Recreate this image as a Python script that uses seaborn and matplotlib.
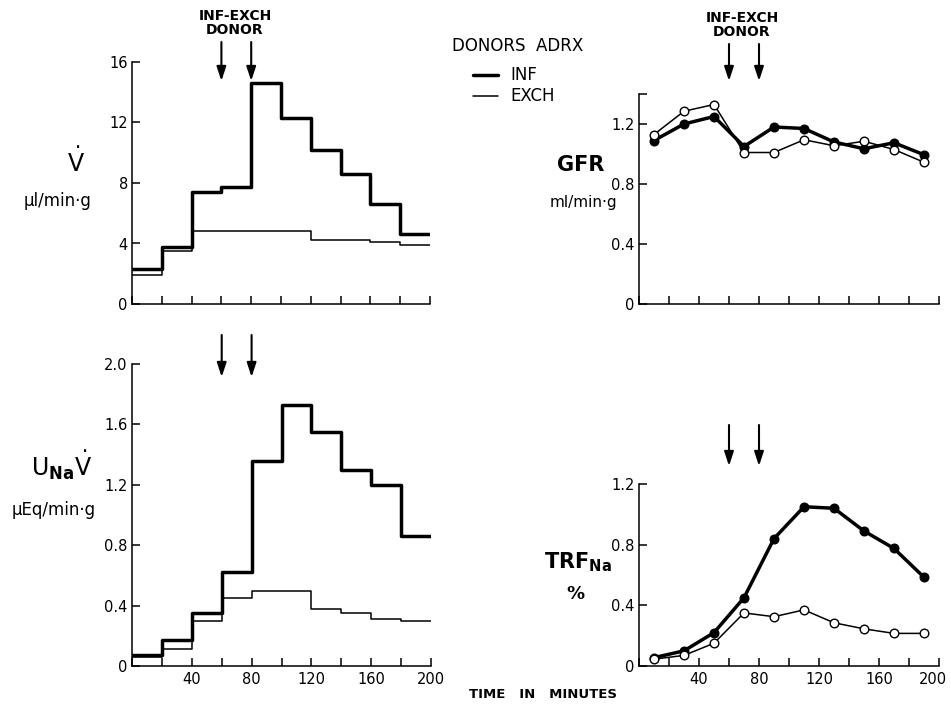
import numpy as np
import pandas as pd
import matplotlib
matplotlib.use("Agg")
import matplotlib.pyplot as plt
import matplotlib.transforms as mtransforms
from matplotlib.lines import Line2D
import seaborn as sns

# ---------------- data ----------------
period_edges = [0, 20, 40, 60, 80, 100, 120, 140, 160, 180, 200]
v_inf = [2.3, 3.8, 7.4, 7.75, 14.6, 12.3, 10.2, 8.6, 6.6, 4.6]
v_exch = [1.9, 3.5, 4.85, 4.85, 4.85, 4.8, 4.25, 4.2, 4.1, 3.9]
una_inf = [0.07, 0.17, 0.35, 0.62, 1.36, 1.73, 1.55, 1.30, 1.20, 0.86]
una_exch = [0.06, 0.11, 0.30, 0.45, 0.50, 0.50, 0.38, 0.35, 0.31, 0.30]

mid_times = [10, 30, 50, 70, 90, 110, 130, 150, 170, 190]
gfr_inf = [1.09, 1.20, 1.25, 1.05, 1.18, 1.17, 1.08, 1.035, 1.075, 0.995]
gfr_exch = [1.13, 1.285, 1.33, 1.01, 1.01, 1.095, 1.055, 1.085, 1.03, 0.945]
trf_inf = [0.055, 0.10, 0.22, 0.45, 0.84, 1.05, 1.04, 0.89, 0.775, 0.585]
trf_exch = [0.045, 0.07, 0.15, 0.35, 0.325, 0.37, 0.285, 0.245, 0.215, 0.215]

x_ticks = [0, 20, 40, 60, 80, 100, 120, 140, 160, 180, 200]
x_labels = ["", "", "40", "", "80", "", "120", "", "160", "", "200"]
v_ticks = [0, 4, 8, 12, 16]
v_labels = ["0", "4", "8", "12", "16"]
una_ticks = [0, 0.4, 0.8, 1.2, 1.6, 2.0]
una_labels = ["0", "0.4", "0.8", "1.2", "1.6", "2.0"]
gfr_ticks = [0, 0.4, 0.8, 1.2, 1.4]
gfr_labels = ["0", "0.4", "0.8", "1.2", ""]
trf_ticks = [0, 0.4, 0.8, 1.2]
trf_labels = ["0", "0.4", "0.8", "1.2"]
arrow_times = [60, 80]

# ---------------- style ----------------
sns.set_theme(style="ticks")
plt.rcParams["font.family"] = ["DejaVu Sans"]
plt.rcParams["mathtext.fontset"] = "dejavusans"
plt.rcParams.update({
    "xtick.direction": "in", "ytick.direction": "in",
    "xtick.major.size": 6, "ytick.major.size": 6,
    "xtick.major.width": 1.1, "ytick.major.width": 1.1,
    "axes.linewidth": 1.1, "xtick.major.pad": 4, "ytick.major.pad": 3,
    "xtick.labelsize": 10.5, "ytick.labelsize": 10.5,
    "xtick.color": "black", "ytick.color": "black",
    "axes.edgecolor": "black", "text.color": "black",
    "axes.labelcolor": "black",
})

W, H = 951, 707
fig = plt.figure(figsize=(W / 100, H / 100), dpi=100)


def rect(l, t, r, b):
    return [l / W, 1 - b / H, (r - l) / W, (b - t) / H]


ax_v = fig.add_axes(rect(132, 62, 430, 304))
ax_u = fig.add_axes(rect(132, 364, 431, 666))
ax_g = fig.add_axes(rect(639, 94, 939, 304))
ax_t = fig.add_axes(rect(639, 484, 939, 666))

THICK, THIN = 2.5, 1.1


def step_df(vals):
    return pd.DataFrame({"t": period_edges, "v": list(vals) + [vals[-1]]})


for ax, inf, exch in [(ax_v, v_inf, v_exch), (ax_u, una_inf, una_exch)]:
    sns.lineplot(data=step_df(exch), x="t", y="v", ax=ax, color="black",
                 lw=THIN, drawstyle="steps-post", estimator=None, sort=False)
    sns.lineplot(data=step_df(inf), x="t", y="v", ax=ax, color="black",
                 lw=THICK, drawstyle="steps-post", estimator=None, sort=False)

for ax, inf, exch in [(ax_g, gfr_inf, gfr_exch), (ax_t, trf_inf, trf_exch)]:
    d_inf = pd.DataFrame({"t": mid_times, "v": inf})
    d_exch = pd.DataFrame({"t": mid_times, "v": exch})
    sns.lineplot(data=d_inf, x="t", y="v", ax=ax, color="black", lw=THICK,
                 marker="o", markersize=6.2, markerfacecolor="black",
                 markeredgecolor="black", markeredgewidth=1.0,
                 estimator=None, sort=False)
    sns.lineplot(data=d_exch, x="t", y="v", ax=ax, color="black", lw=THIN,
                 marker="o", markersize=6.2, markerfacecolor="white",
                 markeredgecolor="black", markeredgewidth=1.0,
                 estimator=None, sort=False)

limits = [(ax_v, 16, v_ticks, v_labels, False),
          (ax_u, 2.0, una_ticks, una_labels, True),
          (ax_g, 1.4, gfr_ticks, gfr_labels, False),
          (ax_t, 1.2, trf_ticks, trf_labels, True)]
for ax, top, yt, yl, show_x in limits:
    ax.set_xlim(0, 200)
    ax.set_ylim(0, top)
    ax.set_yticks(yt)
    ax.set_yticklabels(yl)
    ax.set_xticks(x_ticks)
    ax.set_xticklabels(x_labels if show_x else [""] * len(x_ticks))
    ax.set_xlabel("")
    ax.set_ylabel("")
    sns.despine(ax=ax)
    for s in ax.spines.values():
        s.set_clip_on(False)

# nudge the last "200" label of the right panel so it stays inside the canvas
last = ax_t.get_xticklabels()[-1]
last.set_transform(last.get_transform() +
                   mtransforms.ScaledTranslation(-6 / 100, 0, fig.dpi_scale_trans))

# ---------------- arrows ----------------
arrow_kw = dict(arrowstyle="-|>,head_length=0.85,head_width=0.28",
                color="black", lw=1.5, shrinkA=0, shrinkB=0,
                mutation_scale=10)


def arrows(ax, tail_px, tip_px):
    for t in arrow_times:
        ax.annotate("", xy=(t, 1 - tip_px / H), xycoords=("data", "figure fraction"),
                    xytext=(t, 1 - tail_px / H), textcoords=("data", "figure fraction"),
                    arrowprops=arrow_kw, annotation_clip=False)


arrows(ax_v, 42, 81)
arrows(ax_u, 335, 377)
arrows(ax_g, 44, 81)
arrows(ax_t, 425, 466)


def ftext(x, y, s, **kw):
    kw.setdefault("ha", "center")
    kw.setdefault("va", "center")
    fig.text(x / W, 1 - y / H, s, **kw)


ftext(235, 23, "INF-EXCH\nDONOR", fontsize=10, fontweight="bold",
      linespacing=1.05, multialignment="center")
ftext(742, 25, "INF-EXCH\nDONOR", fontsize=10, fontweight="bold",
      linespacing=1.05, multialignment="center")

# legend
ftext(452, 46, "DONORS  ADRX", fontsize=12, ha="left")
fig.add_artist(Line2D([473 / W, 498 / W], [1 - 75 / H, 1 - 75 / H],
                      color="black", lw=THICK))
fig.add_artist(Line2D([473 / W, 498 / W], [1 - 96 / H, 1 - 96 / H],
                      color="black", lw=THIN))
ftext(510, 75, "INF", fontsize=12, ha="left")
ftext(510, 96, "EXCH", fontsize=12, ha="left")

# axis titles
ftext(76, 162, r"$\dot{\mathrm{V}}$", fontsize=17)
ftext(58, 201, "μl/min·g", fontsize=12)
ftext(581, 165, "GFR", fontsize=15, fontweight="bold")
ftext(583, 203, "ml/min·g", fontsize=11)
ftext(62, 465, r"$\mathrm{U}_{\mathbf{Na}}\dot{\mathrm{V}}$", fontsize=17)
ftext(54, 510, "μEq/min·g", fontsize=12)
ftext(578, 562, r"$\mathbf{TRF}_{\mathbf{Na}}$", fontsize=15)
ftext(575, 594, "%", fontsize=13, fontweight="bold")
ftext(543, 694, "TIME   IN   MINUTES", fontsize=9.5, fontweight="bold")

fig.savefig("out.png", dpi=100)
